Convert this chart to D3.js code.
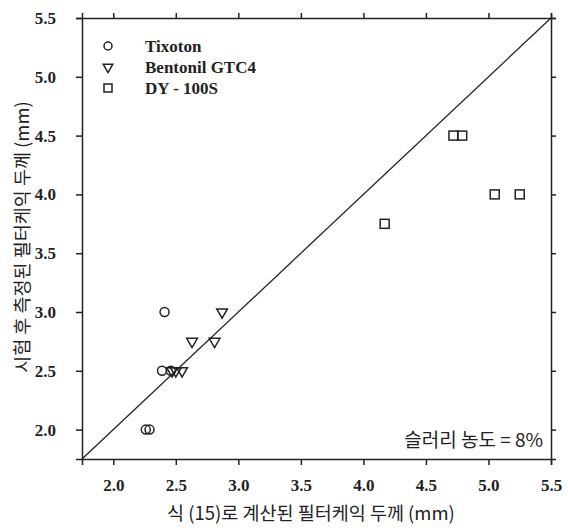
<!DOCTYPE html>
<html>
<head>
<meta charset="utf-8">
<script src="https://cdn.jsdelivr.net/npm/d3@7"></script>
<style>
  body { margin: 0; background: white; }
  .tick text { font-family: "Liberation Serif", serif; font-weight: bold; font-size: 17px; fill: #222; }
  .kr { font-family: "Noto Sans CJK KR", sans-serif; fill: #222; }
</style>
</head>
<body>
<svg id="chart"></svg>
<script>
// calculated thickness (x) vs measured thickness (y), mm
var tixotonX = [2.26, 2.29, 2.39, 2.46, 2.41];
var tixotonY = [2.0, 2.0, 2.5, 2.5, 3.0];

var bentonilX = [2.47, 2.50, 2.55, 2.63, 2.81, 2.87];
var bentonilY = [2.5, 2.5, 2.5, 2.75, 2.75, 3.0];

var dyX = [4.17, 4.72, 4.79, 5.05, 5.25];
var dyY = [3.75, 4.5, 4.5, 4.0, 4.0];

var tickValues = [2.0, 2.5, 3.0, 3.5, 4.0, 4.5, 5.0, 5.5];
var seriesNames = ["Tixoton", "Bentonil GTC4", "DY - 100S"];

var W = 568, H = 531;
var margin = {top: 18, right: 17, bottom: 72, left: 82},
    width = W - margin.left - margin.right,
    height = H - margin.top - margin.bottom;

var svg = d3.select("#chart").attr("width", W).attr("height", H);

var g = svg.append("g")
  .attr("transform", "translate(" + margin.left + "," + margin.top + ")");

var x = d3.scaleLinear().domain([1.75, 5.5]).range([0, width]),
    y = d3.scaleLinear().domain([1.75, 5.5]).range([height, 0]);

var fmt = d3.format(".1f");

// axes, ticks outward on all four sides
g.append("g").attr("transform", "translate(0," + height + ")")
  .call(d3.axisBottom(x).tickValues(tickValues).tickFormat(fmt).tickSize(6).tickPadding(14));
g.append("g")
  .call(d3.axisLeft(y).tickValues(tickValues).tickFormat(fmt).tickSize(6).tickPadding(20));
g.append("g")
  .call(d3.axisTop(x).tickValues(tickValues).tickFormat("").tickSize(5));
g.append("g").attr("transform", "translate(" + width + ",0)")
  .call(d3.axisRight(y).tickValues(tickValues).tickFormat("").tickSize(5));

g.selectAll(".domain").attr("stroke", "#222").attr("stroke-width", 1.5);
g.selectAll(".tick line").attr("stroke", "#222").attr("stroke-width", 1.5);

// 1:1 line
g.append("line")
  .attr("x1", x(1.75)).attr("y1", y(1.75))
  .attr("x2", x(5.5)).attr("y2", y(5.5))
  .attr("stroke", "#222").attr("stroke-width", 1.3);

function zip(xs, ys) { return xs.map((v, i) => ({x: v, y: ys[i]})); }

var tri = d3.symbol().type(d3.symbolTriangle).size(50);

g.selectAll(".tix").data(zip(tixotonX, tixotonY)).enter()
  .append("circle")
  .attr("cx", d => x(d.x)).attr("cy", d => y(d.y)).attr("r", 4.5)
  .attr("fill", "none").attr("stroke", "#222").attr("stroke-width", 1.5);

g.selectAll(".ben").data(zip(bentonilX, bentonilY)).enter()
  .append("path")
  .attr("d", tri)
  .attr("transform", d => "translate(" + x(d.x) + "," + y(d.y) + ") rotate(180)")
  .attr("fill", "none").attr("stroke", "#222").attr("stroke-width", 1.5);

g.selectAll(".dy").data(zip(dyX, dyY)).enter()
  .append("rect")
  .attr("x", d => x(d.x) - 4.5).attr("y", d => y(d.y) - 4.5)
  .attr("width", 9).attr("height", 9)
  .attr("fill", "none").attr("stroke", "#222").attr("stroke-width", 1.5);

// legend
var legend = g.append("g").attr("transform", "translate(26,28)");
seriesNames.forEach(function(name, i) {
  var row = legend.append("g").attr("transform", "translate(0," + (i * 21) + ")");
  if (i === 0) row.append("circle").attr("r", 4).attr("fill", "none").attr("stroke", "#222").attr("stroke-width", 1.5);
  if (i === 1) row.append("path").attr("d", d3.symbol().type(d3.symbolTriangle).size(40)).attr("transform", "rotate(180)")
    .attr("fill", "none").attr("stroke", "#222").attr("stroke-width", 1.5);
  if (i === 2) row.append("rect").attr("x", -4).attr("y", -4).attr("width", 8).attr("height", 8)
    .attr("fill", "none").attr("stroke", "#222").attr("stroke-width", 1.5);
  row.append("text").attr("x", 37).attr("dy", "0.35em")
    .style("font-family", "Liberation Serif, serif").style("font-weight", "bold")
    .style("font-size", "17px").style("fill", "#222")
    .text(name);
});

// annotation
g.append("text").attr("class", "kr")
  .attr("x", width - 8).attr("y", height - 12)
  .attr("text-anchor", "end").style("font-size", "19px")
  .text("슬러리 농도 = 8%");

// axis titles
svg.append("text").attr("class", "kr")
  .attr("x", 311).attr("y", 520)
  .attr("text-anchor", "middle").style("font-size", "18.5px")
  .text("식 (15)로 계산된 필터케익 두께 (mm)");

svg.append("text").attr("class", "kr")
  .attr("transform", "translate(29,237) rotate(-90)")
  .attr("text-anchor", "middle").style("font-size", "18.5px")
  .text("시험 후 측정된 필터케익 두께 (mm)");
</script>
</body>
</html>
